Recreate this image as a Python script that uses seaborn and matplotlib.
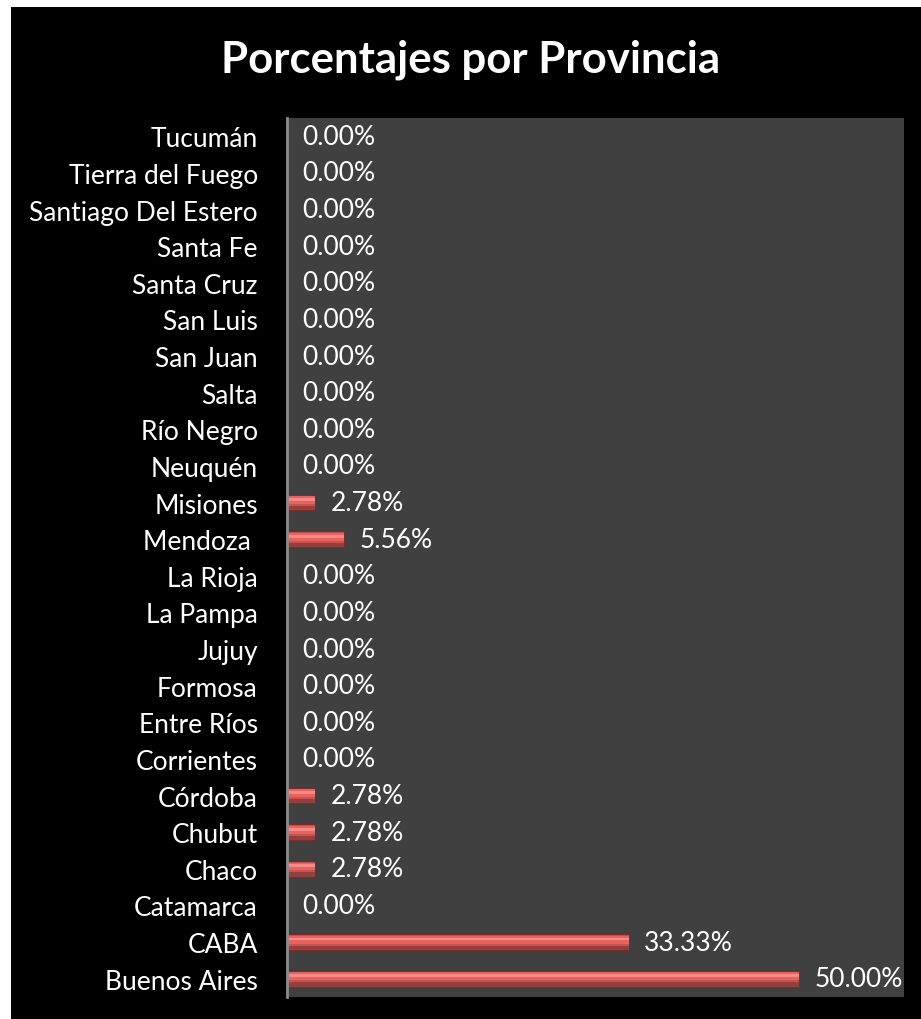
import matplotlib
matplotlib.use("Agg")
import matplotlib.pyplot as plt
import seaborn as sns
import pandas as pd
from matplotlib.patches import Rectangle

provincias = ["Tucumán", "Tierra del Fuego", "Santiago Del Estero", "Santa Fe", "Santa Cruz",
              "San Luis", "San Juan", "Salta", "Río Negro", "Neuquén", "Misiones", "Mendoza ",
              "La Rioja", "La Pampa", "Jujuy", "Formosa", "Entre Ríos", "Corrientes", "Córdoba",
              "Chubut", "Chaco", "Catamarca", "CABA", "Buenos Aires"]
porcentajes = [0.00, 0.00, 0.00, 0.00, 0.00, 0.00, 0.00, 0.00, 0.00, 0.00, 2.78, 5.56,
               0.00, 0.00, 0.00, 0.00, 0.00, 0.00, 2.78, 2.78, 2.78, 0.00, 33.33, 50.00]
titulo = "Porcentajes por Provincia"

df = pd.DataFrame({"Provincia": provincias, "Porcentaje": porcentajes})

sns.set_theme(style="white")
plt.rcParams["font.family"] = ["Lato", "DejaVu Sans"]

W, H = 921, 1020
fig = plt.figure(figsize=(W / 100, H / 100), dpi=100, facecolor="white")
# black chart area with thin white margin
fig.patches.append(Rectangle((11 / W, 0), 1 - 11 / W, 1 - 8 / H, transform=fig.transFigure,
                             facecolor="black", edgecolor="none", zorder=-5))

left, right, top, bottom = 287, 904, 119, 998
ax = fig.add_axes([left / W, 1 - bottom / H, (right - left) / W, (bottom - top) / H])
ax.set_facecolor("#404040")

sns.barplot(data=df, y="Provincia", x="Porcentaje", orient="h", ax=ax,
            color="#C9514E", width=0.43, saturation=1, edgecolor="#7E2A28", linewidth=0.8)

# bevel highlights derived from bar geometry
for p in list(ax.patches):
    x0, y0 = p.get_x(), p.get_y()
    w, h = p.get_width(), p.get_height()
    if w <= 0:
        continue
    ax.add_patch(Rectangle((x0, y0 + h * 0.10), w, h * 0.50, facecolor="#E8625F",
                           edgecolor="none", zorder=p.get_zorder() + 0.1))
    ax.add_patch(Rectangle((x0, y0 + h * 0.22), w, h * 0.18, facecolor="#F58A87",
                           edgecolor="none", zorder=p.get_zorder() + 0.2))
    ax.add_patch(Rectangle((x0, y0 + h * 0.72), w, h * 0.28, facecolor="#94403D",
                           edgecolor="none", zorder=p.get_zorder() + 0.1))

ax.set_xlim(0, 60.2)
ax.set_ylim(len(provincias) - 0.5, -0.5)
ax.set_xlabel("")
ax.set_ylabel("")
ax.set_xticks([])
ax.tick_params(axis="y", length=0, pad=21, labelsize=19, labelcolor="white")
for s in ["top", "right", "bottom"]:
    ax.spines[s].set_visible(False)
ax.spines["left"].set_color("#8C8C8C")
ax.spines["left"].set_linewidth(2)

for i, v in enumerate(porcentajes):
    ax.annotate(f"{v:.2f}%", xy=(v, i), xytext=(11, 0), textcoords="offset points",
                va="center", ha="left", color="white", fontsize=19)

fig.text(471 / W, 1 - 60 / H, titulo, ha="center", va="center",
         color="white", fontsize=31.5, fontweight="bold")

fig.savefig("out.png", dpi=100, facecolor="white")
